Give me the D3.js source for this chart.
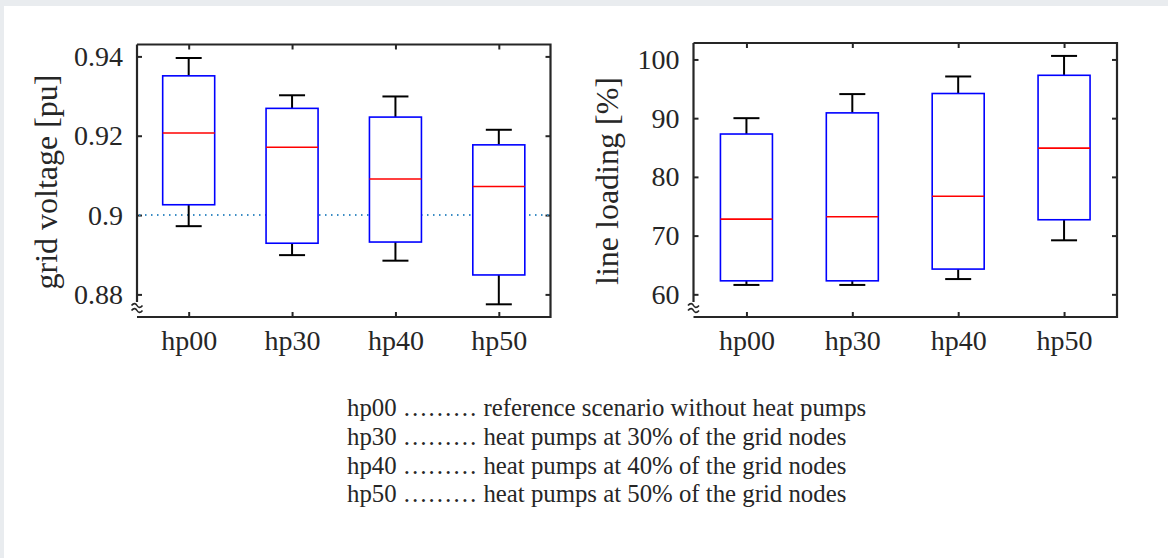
<!DOCTYPE html>
<html>
<head>
<meta charset="utf-8">
<script src="https://cdn.jsdelivr.net/npm/d3@7"></script>
<style>
  html, body { margin: 0; padding: 0; background: #e9ecef; }
  svg { display: block; }
  text { font-family: "Liberation Serif", "Times New Roman", serif; fill: #262626; }
</style>
</head>
<body>
<svg id="chart" width="1168" height="558"></svg>
<script>
// scenarios
var categories = ["hp00", "hp30", "hp40", "hp50"];

// grid voltage [pu]
var voltWhiskerHi = [0.9396, 0.9302, 0.9299, 0.9215];
var voltQ3        = [0.9351, 0.9269, 0.9247, 0.9177];
var voltMedian    = [0.9207, 0.9171, 0.9091, 0.9072];
var voltQ1        = [0.9026, 0.8929, 0.8932, 0.8849];
var voltWhiskerLo = [0.8972, 0.8899, 0.8885, 0.8775];
var voltTicks     = [0.88, 0.9, 0.92, 0.94];
var voltLimit     = 0.9;

// line loading [%]
var loadWhiskerHi = [90.0, 94.1, 97.1, 100.6];
var loadQ3        = [87.3, 90.9, 94.2, 97.3];
var loadMedian    = [72.8, 73.2, 76.7, 84.9];
var loadQ1        = [62.3, 62.3, 64.3, 72.7];
var loadWhiskerLo = [61.6, 61.6, 62.6, 69.2];
var loadTicks     = [60, 70, 80, 90, 100];

var legendText = [
    "reference scenario without heat pumps",
    "heat pumps at 30% of the grid nodes",
    "heat pumps at 40% of the grid nodes",
    "heat pumps at 50% of the grid nodes"
];

var svg = d3.select("#chart");

// white sheet
svg.append("rect")
    .attr("x", 4).attr("y", 6)
    .attr("width", 1164).attr("height", 552)
    .attr("fill", "#fff");

var panels = [
    {
        box: { x0: 137, x1: 550.5, y0: 44.5, y1: 317 },
        domain: [0.8743, 0.943],
        ticks: voltTicks,
        label: "grid voltage [pu]", labelX: 57, labelY: 182,
        hi: voltWhiskerHi, q3: voltQ3, med: voltMedian, q1: voltQ1, lo: voltWhiskerLo,
        limit: voltLimit
    },
    {
        box: { x0: 693.5, x1: 1117, y0: 43, y1: 317 },
        domain: [56.14, 102.8],
        ticks: loadTicks,
        label: "line loading [%]", labelX: 618, labelY: 181,
        hi: loadWhiskerHi, q3: loadQ3, med: loadMedian, q1: loadQ1, lo: loadWhiskerLo,
        limit: null
    }
];

panels.forEach(function (p) {
    var b = p.box;
    var x = d3.scalePoint().domain(categories).range([b.x0, b.x1]).padding(0.5);
    var y = d3.scaleLinear().domain(p.domain).range([b.y1, b.y0]);
    var g = svg.append("g");

    // inward ticks on all four sides
    var tickLen = 5;
    var left = g.append("g").attr("transform", "translate(" + b.x0 + ",0)")
        .call(d3.axisLeft(y).tickValues(p.ticks).tickSize(-tickLen).tickPadding(14)
            .tickFormat(function (d) { return String(d); }));
    var right = g.append("g").attr("transform", "translate(" + b.x1 + ",0)")
        .call(d3.axisRight(y).tickValues(p.ticks).tickSize(-tickLen).tickFormat(""));
    var bottom = g.append("g").attr("transform", "translate(0," + b.y1 + ")")
        .call(d3.axisBottom(x).tickSize(-tickLen).tickPadding(13));
    var top = g.append("g").attr("transform", "translate(0," + b.y0 + ")")
        .call(d3.axisTop(x).tickSize(-tickLen).tickFormat(""));

    [left, right, bottom, top].forEach(function (a) {
        a.select(".domain").remove();
        a.selectAll(".tick line").attr("stroke", "#262626").attr("stroke-width", 2);
    });
    left.selectAll(".tick text")
        .attr("font-size", 28).attr("font-family", "Liberation Serif").attr("fill", "#262626");
    bottom.selectAll(".tick text")
        .attr("font-size", 28).attr("font-family", "Liberation Serif").attr("fill", "#262626");

    // frame, left spine broken near the bottom
    var frame = g.append("g").attr("stroke", "#262626").attr("stroke-width", 2.2).attr("fill", "none");
    frame.append("path").attr("d",
        "M" + b.x0 + "," + b.y0 + "H" + b.x1 + "V" + b.y1 + "H" + b.x0);
    frame.append("path").attr("d", "M" + b.x0 + "," + b.y0 + "V" + (b.y1 - 15));

    // axis break mark
    [-2.5, 2.5].forEach(function (dy) {
        var cy = b.y1 - 9 + dy;
        g.append("path")
            .attr("d", "M" + (b.x0 - 5.5) + "," + cy +
                " C" + (b.x0 - 3) + "," + (cy - 3) + " " + (b.x0 - 1) + "," + (cy - 2) + " " + b.x0 + "," + cy +
                " S" + (b.x0 + 3) + "," + (cy + 3) + " " + (b.x0 + 5.5) + "," + cy)
            .attr("fill", "none").attr("stroke", "#262626").attr("stroke-width", 1.6);
    });

    // limit line
    if (p.limit !== null) {
        g.append("line")
            .attr("x1", b.x0 + 2).attr("x2", b.x1 - 2)
            .attr("y1", y(p.limit)).attr("y2", y(p.limit))
            .attr("stroke", "#3a8cc4").attr("stroke-width", 2)
            .attr("stroke-dasharray", "1.5,4.5");
    }

    // boxes
    var boxW = 52, capW = 26;
    var item = g.selectAll("g.box").data(categories).enter().append("g").attr("class", "box");

    item.append("line") // upper whisker
        .attr("x1", function (d) { return x(d); }).attr("x2", function (d) { return x(d); })
        .attr("y1", function (d, i) { return y(p.q3[i]); })
        .attr("y2", function (d, i) { return y(p.hi[i]); })
        .attr("stroke", "#000").attr("stroke-width", 2);
    item.append("line") // lower whisker
        .attr("x1", function (d) { return x(d); }).attr("x2", function (d) { return x(d); })
        .attr("y1", function (d, i) { return y(p.q1[i]); })
        .attr("y2", function (d, i) { return y(p.lo[i]); })
        .attr("stroke", "#000").attr("stroke-width", 2);
    item.append("line")
        .attr("x1", function (d) { return x(d) - capW / 2; }).attr("x2", function (d) { return x(d) + capW / 2; })
        .attr("y1", function (d, i) { return y(p.hi[i]); })
        .attr("y2", function (d, i) { return y(p.hi[i]); })
        .attr("stroke", "#000").attr("stroke-width", 2);
    item.append("line")
        .attr("x1", function (d) { return x(d) - capW / 2; }).attr("x2", function (d) { return x(d) + capW / 2; })
        .attr("y1", function (d, i) { return y(p.lo[i]); })
        .attr("y2", function (d, i) { return y(p.lo[i]); })
        .attr("stroke", "#000").attr("stroke-width", 2);
    item.append("rect")
        .attr("x", function (d) { return x(d) - boxW / 2; })
        .attr("width", boxW)
        .attr("y", function (d, i) { return y(p.q3[i]); })
        .attr("height", function (d, i) { return y(p.q1[i]) - y(p.q3[i]); })
        .attr("fill", "#fff").attr("stroke", "#0000ff").attr("stroke-width", 1.6);
    item.append("line")
        .attr("x1", function (d) { return x(d) - boxW / 2; }).attr("x2", function (d) { return x(d) + boxW / 2; })
        .attr("y1", function (d, i) { return y(p.med[i]); })
        .attr("y2", function (d, i) { return y(p.med[i]); })
        .attr("stroke", "#ff0000").attr("stroke-width", 1.6);

    // y label
    g.append("text")
        .attr("transform", "translate(" + p.labelX + "," + p.labelY + ") rotate(-90)")
        .attr("text-anchor", "middle")
        .attr("font-size", 32)
        .text(p.label);
});

// legend
var legend = svg.append("g").attr("transform", "translate(347,416)");
legend.selectAll("text").data(categories).enter().append("text")
    .attr("x", 0)
    .attr("y", function (d, i) { return i * 28.8; })
    .attr("font-size", 24.8)
    .text(function (d, i) { return d + " \u2026\u2026\u2026 " + legendText[i]; });
</script>
</body>
</html>
